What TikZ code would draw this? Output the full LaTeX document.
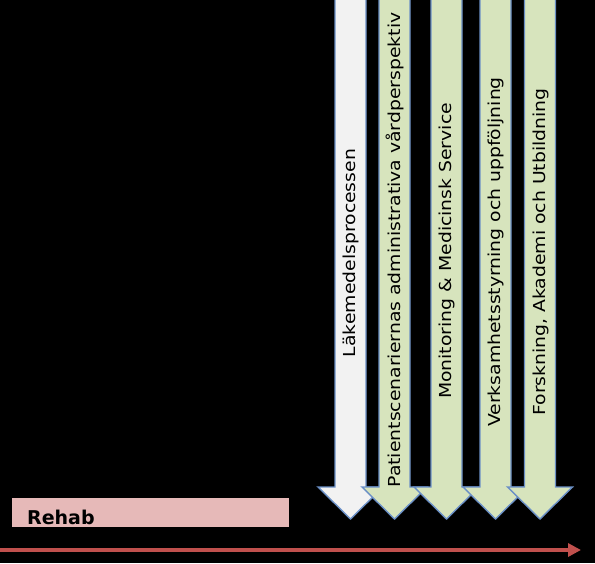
\documentclass[tikz,border=0pt]{standalone}
\usepackage{fontspec}
\setmainfont{DejaVu Sans}
\usetikzlibrary{arrows.meta}
\definecolor{bordercol}{HTML}{6A8FC6}
\definecolor{whitefill}{HTML}{F2F2F2}
\definecolor{greenfill}{HTML}{D7E4BD}
\definecolor{rehabfill}{HTML}{E6B9B8}
\definecolor{timecol}{HTML}{C0504D}
\tikzset{
  arrowbox/.style={draw=bordercol, line width=1.4pt, line join=miter},
  vlabel/.style={rotate=90, font=\fontsize{16.5}{19}\selectfont, inner sep=0pt, text=black},
  rehabbox/.style={fill=rehabfill, draw=none},
  timeline/.style={draw=timecol, line width=3.2pt, -{Triangle[length=13pt,width=13pt]}}
}
\newcommand{\downarr}[2]{%
  \fill[#2] (#1-15.5,4) -- (#1-15.5,-487) -- (#1-32.5,-487) -- (#1,-519) -- (#1+32.5,-487) -- (#1+15.5,-487) -- (#1+15.5,4) -- cycle;
  \draw[arrowbox] (#1-15.5,4) -- (#1-15.5,-487) -- (#1-32.5,-487) -- (#1,-519) -- (#1+32.5,-487) -- (#1+15.5,-487) -- (#1+15.5,4);
}
\begin{document}
\begin{tikzpicture}[x=1pt,y=1pt]
\fill[black] (0,0) rectangle (595,-563);
\useasboundingbox (0,0) rectangle (595,-563);
\begin{scope}
\clip (0,0) rectangle (595,-563);
\downarr{350.5}{whitefill}
\downarr{394.5}{greenfill}
\downarr{446.5}{greenfill}
\downarr{495.5}{greenfill}
\downarr{540}{greenfill}
\end{scope}
\node[vlabel] (l1) at (351,-253) {\scalebox{1.14}[1]{Läkemedelsprocessen}};
\node[vlabel] (l2) at (395,-250) {\scalebox{1.14}[1]{Patientscenariernas administrativa vårdperspektiv}};
\node[vlabel] (l3) at (447,-251) {\scalebox{1.14}[1]{Monitoring \& Medicinsk Service}};
\node[vlabel] (l4) at (496,-252) {\scalebox{1.14}[1]{Verksamhetsstyrning och uppföljning}};
\node[vlabel] (l5) at (541,-252) {\scalebox{1.14}[1]{Forskning, Akademi och Utbildning}};
\node[rehabbox, minimum width=277pt, minimum height=29pt, anchor=north west, inner sep=0pt] (rehab) at (11.5,-498) {};
\node[anchor=base west, font=\fontsize{19}{21}\selectfont\bfseries, inner sep=0pt] (rehabtext) at (27,-524) {Rehab};
\coordinate (tstart) at (0,-550);
\coordinate (tend) at (581,-550);
\draw[timeline] (tstart) -- (tend);
\end{tikzpicture}
\end{document}
